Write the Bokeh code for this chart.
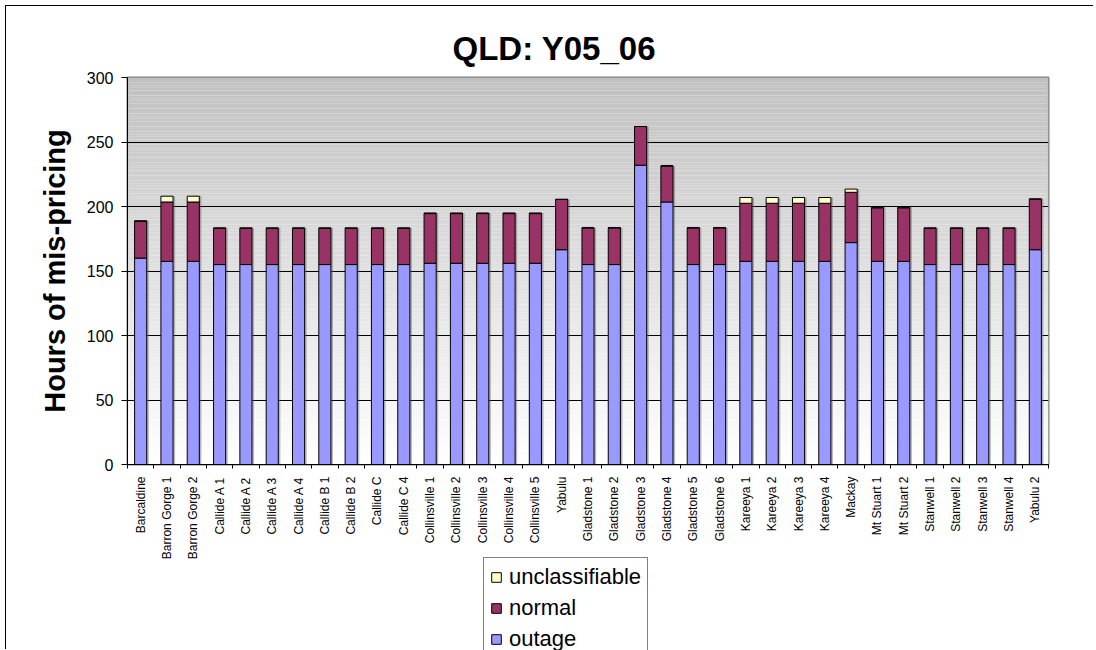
import numpy as np
from bokeh.plotting import figure
from bokeh.models import ColumnDataSource, Range1d, FixedTicker, Legend, LegendItem
from bokeh.transform import dodge
from bokeh.embed import file_html
from bokeh.resources import INLINE

# ---------------- data ----------------
categories = [
    "Barcaldine", "Barron Gorge 1", "Barron Gorge 2",
    "Callide A 1", "Callide A 2", "Callide A 3", "Callide A 4",
    "Callide B 1", "Callide B 2", "Callide C", "Callide C 4",
    "Collinsville 1", "Collinsville 2", "Collinsville 3", "Collinsville 4", "Collinsville 5",
    "Yabulu",
    "Gladstone 1", "Gladstone 2", "Gladstone 3", "Gladstone 4", "Gladstone 5", "Gladstone 6",
    "Kareeya 1", "Kareeya 2", "Kareeya 3", "Kareeya 4",
    "Mackay", "Mt Stuart 1", "Mt Stuart 2",
    "Stanwell 1", "Stanwell 2", "Stanwell 3", "Stanwell 4",
    "Yabulu 2",
]
outage = [160, 157.5, 157.5,
          155, 155, 155, 155,
          155, 155, 155, 155,
          156, 156, 156, 156, 156,
          166.5,
          155, 155, 232, 203.5, 155, 155,
          157.5, 157.5, 157.5, 157.5,
          172, 157.5, 157.5,
          155, 155, 155, 155,
          166.5]
normal = [28.5, 46, 46,
          28, 28, 28, 28,
          28, 28, 28, 28,
          38.5, 38.5, 38.5, 38.5, 38.5,
          39,
          28.5, 28.5, 30, 28, 28.5, 28.5,
          45, 45, 45, 45,
          39, 41.5, 41.5,
          28, 28, 28, 28,
          39]
unclassifiable = [0.5, 4.5, 4.5,
                  0.5, 0.5, 0.5, 0.5,
                  0.5, 0.5, 0.5, 0.5,
                  0.5, 0.5, 0.5, 0.5, 0.5,
                  0,
                  0, 0, 0, 0, 0, 0,
                  4.5, 4.5, 4.5, 4.5,
                  2.5, 0.5, 0.5,
                  0.5, 0.5, 0.5, 0.5,
                  0.5]
series_names = ["outage", "normal", "unclassifiable"]
series_colors = ["#9999FF", "#993366", "#FFFFCC"]
y_ticks = [0, 50, 100, 150, 200, 250, 300]

# ---------------- build ----------------
n = len(categories)
xpos = [i + 0.5 for i in range(n)]
total = [o + m + u for o, m, u in zip(outage, normal, unclassifiable)]
source = ColumnDataSource(dict(x=xpos, outage=outage, normal=normal,
                               unclassifiable=unclassifiable, total=total))

FONT = "Liberation Sans"

p = figure(width=1088, height=644,
           x_range=Range1d(0, n), y_range=Range1d(y_ticks[0], y_ticks[-1]),
           output_backend="svg", toolbar_location=None,
           min_border_left=121, min_border_top=71,
           min_border_right=46, min_border_bottom=186,
           background_fill_color="white", border_fill_color="white",
           outline_line_color="#808080", outline_line_width=2,
           styles={"margin": "6px 0px 0px 6px",
                   "box-shadow": "-1px -1px 0px 0px #000000"})

# gradient plot-area background (style only)
nb = 150
edges = np.linspace(y_ticks[0], y_ticks[-1], nb + 1)
frac = (edges[:-1] + edges[1:]) / 2 / y_ticks[-1]   # 0 bottom .. 1 top
bg_cols = []
for f in frac:
    v = int(round(255 - 63 * f))
    bg_cols.append("#%02x%02x%02x" % (v, v, v))
p.quad(left=0, right=n, bottom=edges[:-1], top=edges[1:],
       fill_color=bg_cols, line_color=None, level="image")

# shadow
p.vbar(x=dodge("x", 0.08), top="total", width=0.46, source=source,
       fill_color="#666666", fill_alpha=0.45, line_color=None)

rs = p.vbar_stack(series_names, x="x", width=0.46, source=source,
                  fill_color=series_colors, line_color="black", line_width=1)

# grid
p.xgrid.visible = False
p.ygrid.ticker = FixedTicker(ticks=y_ticks)
p.ygrid.grid_line_color = "black"
p.ygrid.grid_line_width = 1

# x axis
xa = p.xaxis[0]
xa.ticker = FixedTicker(ticks=xpos, minor_ticks=list(range(n + 1)))
xa.major_label_overrides = {xv: c for xv, c in zip(xpos, categories)}
xa.major_tick_out = 0
xa.major_tick_in = 0
xa.minor_tick_out = 4
xa.minor_tick_in = 0
xa.minor_tick_line_color = "black"
xa.axis_line_color = "black"
xa.major_label_orientation = np.pi / 2
xa.major_label_standoff = 8
xa.major_label_text_font = FONT
xa.major_label_text_font_size = "12px"
xa.major_label_text_color = "black"

# y axis
ya = p.yaxis[0]
ya.ticker = FixedTicker(ticks=y_ticks)
ya.major_tick_out = 6
ya.major_tick_in = 0
ya.minor_tick_out = 0
ya.major_tick_line_color = "black"
ya.axis_line_color = "black"
ya.major_label_standoff = 8
ya.major_label_text_font = FONT
ya.major_label_text_font_size = "16px"
ya.major_label_text_color = "black"
ya.axis_label = "Hours of mis-pricing"
ya.axis_label_text_font = FONT
ya.axis_label_text_font_size = "29px"
ya.axis_label_text_font_style = "bold"
ya.axis_label_text_color = "black"
ya.axis_label_standoff = 13

# title
p.title.text = "QLD: Y05_06"
p.title.align = "left"
p.title.offset = 325
p.title.text_font = FONT
p.title.text_font_size = "33px"
p.title.text_font_style = "bold"
p.title.text_color = "black"
p.title.standoff = 21

# ---------------- legend (separate small canvas placed under the axis) ----------------
lf = figure(width=172, height=93,
            x_range=Range1d(n + 1, n + 2), y_range=Range1d(y_ticks[0], y_ticks[-1]),
            output_backend="svg", toolbar_location=None,
            x_axis_type=None, y_axis_type=None, min_border=0,
            outline_line_color=None, background_fill_color=None,
            border_fill_color=None,
            styles={"position": "absolute", "left": "483px", "top": "557px"})
lf.grid.visible = False
lrs = lf.vbar_stack(series_names, x="x", width=0.46, source=source,
                    fill_color=series_colors, line_color="black", line_width=1)
legend = Legend(items=[LegendItem(label=series_names[2], renderers=[lrs[2]]),
                       LegendItem(label=series_names[1], renderers=[lrs[1]]),
                       LegendItem(label=series_names[0], renderers=[lrs[0]])],
                location="top_left", orientation="vertical",
                label_text_font=FONT, label_text_font_size="22px",
                label_text_color="black",
                glyph_width=12, glyph_height=12, label_height=24,
                label_standoff=7, spacing=5, padding=6, margin=0,
                border_line_color="black", border_line_width=1,
                background_fill_color="white", background_fill_alpha=1)
lf.add_layout(legend)

open("out.html", "w").write(file_html([p, lf], INLINE))
